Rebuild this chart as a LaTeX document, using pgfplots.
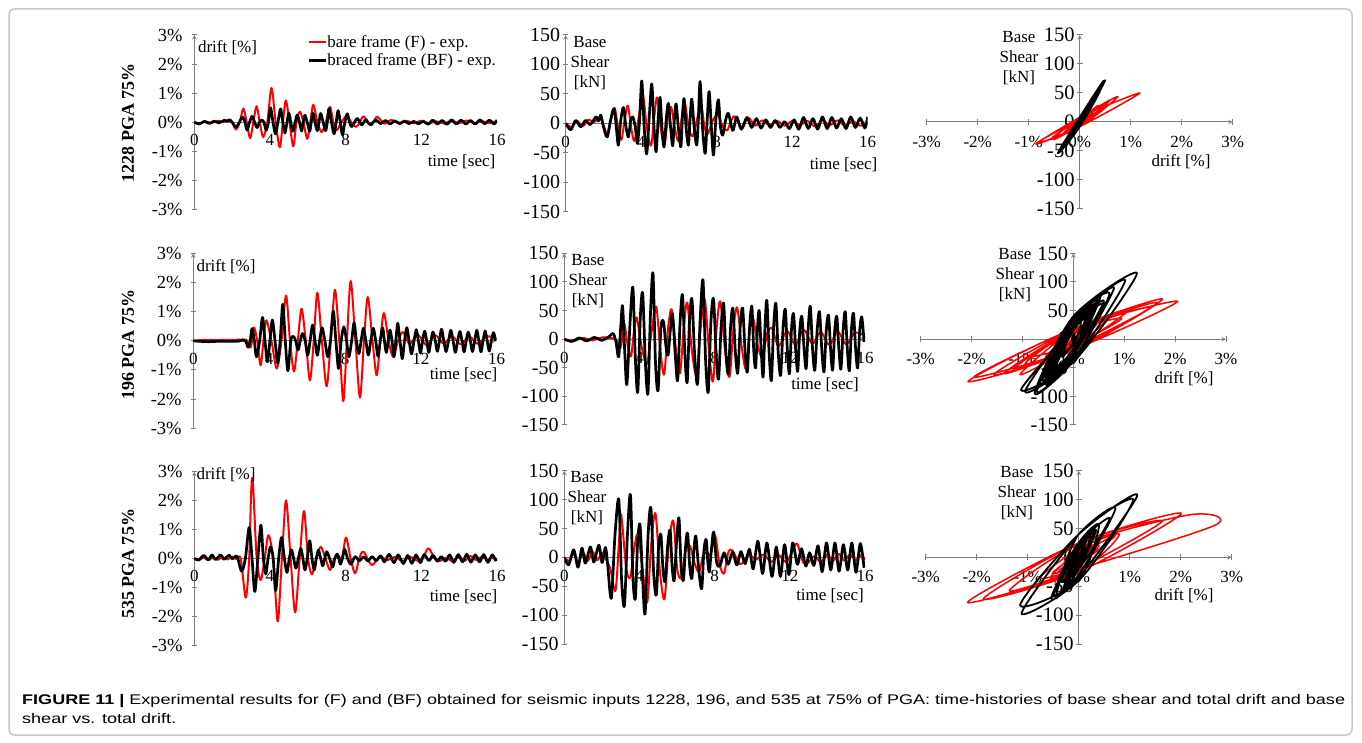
\documentclass[border=0pt]{standalone}
\usepackage{fontspec}
\setmainfont{Liberation Serif}
\newfontfamily\capfont{Liberation Sans}
\usepackage{pgfplots}
\pgfplotsset{compat=1.18}
\usepackage{pgfplotstable}
\usepackage{graphicx}
\definecolor{axgray}{RGB}{125,125,125}
\definecolor{capgray}{RGB}{45,45,45}
\definecolor{framegray}{RGB}{200,200,200}
\newsavebox\capA
\newsavebox\capB
\newlength\capw
\newcommand\lf{\fontsize{17}{20}\selectfont}

% ---------- 1228 PGA 75%, bare frame (F): t, drift [%], base shear [kN]
\pgfplotstableread{
t d v
0.00 0.00 0
0.30 -0.04 -6
0.60 0.03 4
0.90 -0.03 -5
1.20 0.05 6
1.50 0.03 2
1.80 0.06 10
2.00 0.00 -3
2.20 -0.25 -18
2.40 0.00 6
2.59 0.47 26
2.77 0.00 -6
2.95 -0.55 -28
3.12 0.00 6
3.29 0.55 30
3.46 0.00 -6
3.64 -0.51 -30
3.86 0.00 8
4.08 1.18 50
4.30 0.00 -8
4.52 -0.86 -38
4.68 0.00 8
4.84 0.75 44
5.03 0.00 -8
5.23 -0.83 -36
5.40 0.00 6
5.58 0.36 28
5.77 0.00 -6
5.97 -0.57 -30
6.13 0.00 6
6.29 0.60 38
6.51 0.00 -6
6.73 -0.34 -22
6.95 0.00 6
7.17 0.53 32
7.35 0.00 -5
7.52 -0.28 -18
7.78 0.00 4
8.05 0.22 15
8.30 0.00 -4
8.55 -0.16 -12
8.75 0.00 3
8.95 0.20 12
9.35 -0.10 -8
9.65 0.19 10
10.05 -0.05 -4
10.40 0.08 5
10.80 -0.03 -3
11.20 0.05 4
11.60 -0.03 -4
12.00 0.05 4
12.40 -0.04 -3
12.80 0.03 4
13.20 -0.04 -5
13.60 0.05 5
14.00 -0.03 -3
14.40 0.06 5
14.80 -0.03 -4
15.20 0.04 4
15.60 -0.03 -4
16.00 0.02 2
}\tAr

% ---------- 1228 PGA 75%, braced frame (BF)
\pgfplotstableread{
t d v
0.00 0.00 0
0.27 -0.06 -11
0.53 0.03 5
0.80 -0.04 -6
1.05 0.04 5
1.30 -0.02 -2
1.60 0.07 11
1.73 0.03 4
1.86 0.09 14
2.00 0.00 -6
2.20 -0.17 -23
2.38 0.00 6
2.56 0.18 25
2.68 0.00 -6
2.79 -0.27 -37
2.92 0.00 6
3.06 0.20 27
3.19 0.00 -5
3.32 -0.18 -23
3.44 0.00 4
3.55 0.08 11
3.68 0.00 -5
3.80 -0.27 -34
3.92 0.00 8
4.03 0.50 72
4.16 0.00 -8
4.29 -0.40 -52
4.42 0.00 8
4.56 0.46 67
4.68 0.00 -8
4.79 -0.37 -48
4.90 0.00 8
5.00 0.31 44
5.10 0.00 -8
5.21 -0.31 -40
5.33 0.00 8
5.44 0.25 34
5.56 0.00 -8
5.67 -0.30 -38
5.76 0.00 8
5.85 0.24 33
5.97 0.00 -8
6.10 -0.31 -40
6.18 0.00 8
6.27 0.31 42
6.38 0.00 -8
6.50 -0.29 -37
6.59 0.00 8
6.68 0.30 41
6.81 0.00 -8
6.94 -0.29 -37
7.03 0.00 8
7.12 0.47 71
7.25 0.00 -8
7.39 -0.40 -51
7.50 0.00 8
7.60 0.40 54
7.72 0.00 -8
7.83 -0.43 -54
7.96 0.00 8
8.09 0.29 40
8.20 0.00 -6
8.32 -0.15 -20
8.47 0.00 5
8.62 0.13 17
8.85 -0.09 -12
9.06 0.08 11
9.30 -0.08 -10
9.60 0.07 10
9.85 -0.05 -7
10.10 0.06 8
10.35 -0.06 -8
10.60 0.05 6
10.85 -0.05 -7
11.10 0.04 5
11.35 -0.05 -7
11.60 0.03 3
11.85 -0.06 -9
12.10 0.04 6
12.35 -0.07 -10
12.60 0.07 10
12.85 -0.06 -9
13.10 0.06 8
13.35 -0.07 -10
13.60 0.08 11
13.85 -0.06 -9
14.10 0.07 10
14.35 -0.06 -8
14.60 0.06 8
14.85 -0.06 -9
15.10 0.08 11
15.35 -0.05 -7
15.60 0.07 9
15.85 -0.06 -8
16.00 0.08 11
}\tAb

% ---------- 196 PGA 75%, bare frame (F)
\pgfplotstableread{
t d v
0.00 0.00 0
0.50 0.03 -3
1.00 0.02 2
1.50 0.03 -2
2.00 0.03 3
2.50 0.04 2
2.80 0.03 -3
3.00 -0.23 -14
3.10 0.00 8
3.20 0.46 27
3.37 0.00 -10
3.55 -0.84 -30
3.70 0.00 12
3.85 0.70 38
4.12 0.00 -14
4.40 -0.95 -43
4.65 0.00 15
4.89 1.55 57
5.10 0.00 -16
5.31 -1.05 -62
5.51 0.00 16
5.71 1.10 52
5.93 0.00 -15
6.15 -1.36 -60
6.35 0.00 16
6.54 1.65 64
6.78 0.00 -18
7.03 -1.56 -62
7.25 0.00 18
7.47 1.75 70
7.70 0.00 -20
7.91 -2.07 -74
8.10 0.00 18
8.30 2.05 66
8.55 0.00 -18
8.79 -1.95 -66
9.00 0.00 18
9.20 1.50 55
9.45 0.00 -16
9.67 -1.18 -52
9.86 0.00 14
10.05 0.95 36
10.30 0.00 -12
10.54 -0.55 -31
10.80 0.00 10
11.05 0.30 19
11.40 -0.10 -12
11.85 0.20 14
12.30 -0.15 -10
12.75 0.20 16
13.20 -0.10 -8
13.65 0.15 12
14.10 -0.12 -10
14.55 0.15 13
15.00 -0.10 -9
15.45 0.15 11
15.90 0.10 8
}\tBr

% ---------- 196 PGA 75%, braced frame (BF)
\pgfplotstableread{
t d v
0.00 0.00 0
0.40 -0.02 -4
0.80 -0.03 2
1.20 -0.02 -3
1.60 -0.02 3
2.00 -0.02 -2
2.40 -0.01 5
2.60 0.02 10
2.75 0.00 -5
2.89 -0.22 -31
3.00 0.00 20
3.10 0.42 58
3.22 0.00 -25
3.33 -0.55 -79
3.50 0.00 30
3.65 0.80 90
3.78 0.00 -35
3.91 -0.72 -92
4.04 0.00 35
4.17 0.71 80
4.31 0.00 -38
4.45 -0.76 -95
4.58 0.00 40
4.72 1.25 115
4.85 0.00 -40
4.99 -1.03 -89
5.14 0.00 20
5.28 0.15 30
5.40 0.00 -10
5.52 -0.32 -28
5.64 0.00 15
5.76 0.25 44
5.90 0.00 -25
6.03 -0.50 -72
6.16 0.00 30
6.29 0.54 77
6.42 0.00 -30
6.54 -0.50 -75
6.66 0.00 30
6.79 0.45 70
6.94 0.00 -30
7.09 -0.55 -78
7.23 0.00 35
7.38 1.02 103
7.52 0.00 -38
7.66 -0.95 -92
7.80 0.00 30
7.94 0.48 70
8.08 0.00 -28
8.21 -0.55 -69
8.35 0.00 25
8.48 0.62 62
8.60 0.00 -25
8.73 -0.44 -60
8.85 0.00 22
8.97 0.43 54
9.10 0.00 -22
9.23 -0.49 -59
9.36 0.00 22
9.49 0.43 54
9.62 0.00 -22
9.74 -0.53 -57
9.86 0.00 22
9.98 0.45 57
10.08 0.00 -20
10.18 -0.40 -50
10.28 0.00 20
10.37 0.37 50
10.48 0.00 -22
10.58 -0.55 -66
10.68 0.00 24
10.78 0.60 67
10.90 0.00 -25
11.02 -0.61 -72
11.14 0.00 24
11.26 0.45 62
11.38 0.00 -22
11.51 -0.45 -63
11.64 0.00 20
11.76 0.38 52
11.87 0.00 -20
11.98 -0.42 -60
12.09 0.00 18
12.20 0.33 45
12.31 0.00 -18
12.42 -0.40 -56
12.53 0.00 16
12.64 0.30 40
12.76 0.00 -18
12.87 -0.36 -51
12.98 0.00 20
13.09 0.40 57
13.21 0.00 -18
13.33 -0.37 -54
13.46 0.00 18
13.58 0.36 48
13.70 0.00 -18
13.82 -0.40 -57
13.94 0.00 16
14.06 0.32 42
14.17 0.00 -18
14.28 -0.38 -54
14.39 0.00 16
14.50 0.30 40
14.61 0.00 -18
14.72 -0.37 -52
14.84 0.00 18
14.95 0.36 48
15.06 0.00 -18
15.17 -0.38 -55
15.28 0.00 18
15.39 0.34 45
15.50 0.00 -17
15.61 -0.35 -50
15.72 0.00 16
15.83 0.28 39
15.95 0.00 -5
}\tBb

% ---------- 535 PGA 75%, bare frame (F)
\pgfplotstableread{
t d v
0.00 0.00 0
0.25 -0.05 -6
0.50 0.03 6
0.75 -0.07 -9
1.00 0.04 8
1.25 -0.05 -6
1.50 0.05 10
1.75 -0.04 -5
2.00 0.06 8
2.20 -0.02 -3
2.45 0.00 -20
2.72 -1.36 -58
2.90 0.00 22
3.00 2.20 74
3.09 2.68 56
3.30 0.00 -20
3.51 -0.75 -35
3.72 0.00 15
3.92 0.80 40
4.17 0.00 -22
4.41 -2.18 -78
4.63 0.00 25
4.85 2.01 76
5.09 0.00 -25
5.33 -1.87 -72
5.57 0.00 25
5.80 1.64 63
6.01 0.00 -20
6.22 -0.55 -35
6.45 0.00 12
6.68 0.40 20
6.93 0.00 -10
7.17 -0.40 -25
7.40 0.00 5
7.60 0.10 8
7.80 0.00 5
8.02 0.72 38
8.26 0.00 -12
8.50 -0.52 -28
8.72 0.00 8
8.94 0.23 12
9.38 -0.23 -12
9.80 0.06 5
10.20 -0.06 -4
10.60 0.05 5
11.00 -0.10 -8
11.40 0.05 4
11.80 -0.08 -8
12.10 0.05 8
12.38 0.35 24
12.70 0.00 -8
12.95 -0.10 -10
13.30 0.02 2
13.65 -0.10 -8
14.00 0.05 5
14.30 -0.08 -6
14.60 0.08 6
14.90 -0.06 -6
15.20 0.06 5
15.50 -0.05 -5
15.80 0.04 4
16.00 -0.05 -4
}\tCr

% ---------- 535 PGA 75%, braced frame (BF)
\pgfplotstableread{
t d v
0.00 0.00 0
0.23 -0.06 -13
0.50 0.10 13
0.73 -0.05 -17
0.94 0.12 16
1.12 -0.04 -10
1.39 0.12 18
1.57 -0.03 -8
1.84 0.11 21
2.01 -0.02 -9
2.19 0.08 17
2.30 0.00 -10
2.50 -0.45 -71
2.70 0.00 40
2.90 1.07 100
3.05 0.00 -40
3.20 -1.15 -83
3.36 0.00 40
3.52 1.15 108
3.65 0.00 -35
3.78 -0.54 -71
3.90 0.00 25
4.03 0.40 56
4.17 0.00 -40
4.30 -1.12 -97
4.46 0.00 40
4.61 0.72 85
4.76 0.00 -30
4.90 -0.49 -65
5.02 0.00 20
5.14 0.29 39
5.25 0.00 -20
5.37 -0.34 -42
5.50 0.00 20
5.63 0.34 47
5.74 0.00 -18
5.85 -0.40 -40
5.97 0.00 25
6.10 0.61 68
6.22 0.00 -20
6.34 -0.40 -39
6.45 0.00 18
6.56 0.29 42
6.68 0.00 -18
6.79 -0.26 -36
6.90 0.00 15
7.00 0.23 37
7.15 0.00 -20
7.31 -0.30 -54
7.43 0.00 12
7.55 0.15 31
7.64 0.00 -10
7.72 -0.20 -25
7.83 0.00 15
7.95 0.31 44
8.10 0.00 -8
8.28 -0.20 -15
8.50 0.06 8
8.72 -0.08 -12
8.95 0.05 9
9.18 -0.09 -13
9.40 0.06 10
9.62 -0.08 -11
9.85 0.09 14
10.05 -0.12 -20
10.30 0.14 28
10.55 -0.15 -28
10.78 0.12 25
11.05 -0.18 -33
11.28 0.10 18
11.50 -0.17 -33
11.72 0.12 22
11.95 -0.15 -30
12.15 0.13 25
12.40 -0.08 -12
12.62 0.10 15
12.85 -0.10 -15
13.05 0.06 8
13.28 -0.10 -14
13.50 0.12 20
13.72 -0.14 -25
13.95 0.13 25
14.18 -0.12 -22
14.40 0.14 25
14.62 -0.13 -24
14.85 0.12 22
15.08 -0.12 -22
15.30 0.13 25
15.52 -0.14 -26
15.75 0.12 24
15.95 -0.10 -18
}\tCb

\pgfplotsset{
  base/.style={
    scale only axis, anchor=south west,
    axis line style={-, draw=axgray, line width=1pt},
    every inner x axis line/.append style={-},
    every inner y axis line/.append style={-},
    every outer x axis line/.append style={-},
    every outer y axis line/.append style={-},
    tick style={draw=axgray, line width=1pt},
    major tick length=5pt, tick align=outside,
    hide obscured x ticks=false, hide obscured y ticks=false,
    tick label style={inner sep=0pt, text=black},
    xticklabel style={anchor=north, font=\fontsize{17}{20}\selectfont},
    yticklabel style={anchor=east},
    minor tick num=0,
  },
  colA/.style={base, xmin=0, xmax=16, ymin=-3, ymax=3,
    axis x line=middle, axis y line=left,
    xtick={0,4,8,12,16}, xticklabels={0,4,8,12,16},
    ytick={-3,-2,-1,0,1,2,3}, yticklabels={-3\%,-2\%,-1\%,0\%,1\%,2\%,3\%},
    x tick style={draw=none},
    xticklabel style={yshift=-9.5pt},
    yticklabel style={xshift=-9pt, font=\fontsize{18.5}{20}\selectfont}},
  colB/.style={base, xmin=0, xmax=16, ymin=-150, ymax=150,
    axis x line=middle, axis y line=left,
    xtick={0,4,8,12,16}, xticklabels={0,4,8,12,16},
    ytick={-150,-100,-50,0,50,100,150}, yticklabels={-150,-100,-50,0,50,100,150},
    x tick style={draw=none},
    xticklabel style={yshift=-10.5pt},
    yticklabel style={xshift=-3pt, font=\fontsize{20}{20}\selectfont}},
  colC/.style={base, xmin=-3, xmax=3, ymin=-150, ymax=150,
    axis lines=middle, major tick length=6pt,
    xtick={-3,-2,-1,0,1,2,3}, xticklabels={-3\%,-2\%,-1\%,0\%,1\%,2\%,3\%},
    ytick={-150,-100,-50,0,50,100,150}, yticklabels={-150,-100,-50,0,50,100,150},
    xticklabel style={yshift=-10.5pt},
    yticklabel style={xshift=-2pt, font=\fontsize{20.5}{20}\selectfont}},
  rts/.style={red, line width=2pt, smooth, line join=round},
  bts/.style={black, line width=2.7pt, smooth, line join=round},
  rhy/.style={red, line width=1.5pt, smooth, line join=round},
  bhy/.style={black, line width=1.8pt, smooth, line join=round},
}

\begin{document}%
\sbox\capA{\capfont\fontsize{14}{19}\selectfont\textbf{FIGURE 11 |} Experimental results for (F) and (BF) obtained for seismic inputs 1228, 196, and 535 at 75\% of PGA: time-histories of base shear and total drift and base}%
\sbox\capB{\capfont\fontsize{14}{19}\selectfont shear vs. total drift.}%
\setlength\capw{\wd\capA}%
\pgfmathsetmacro\capr{1323/\capw}%
\begin{tikzpicture}[x=1pt,y=1pt]
\path[use as bounding box] (0,0) rectangle (1362,742);
\fill[white] (0,0) rectangle (1362,742);
\draw[framegray, line width=1.5pt, rounded corners=6pt] (9,7) rectangle (1352,733);

% ---------------- Row 1 : 1228 ----------------
\begin{axis}[colA, at={(194.3pt,532.5pt)}, width=302.7pt, height=174.5pt,
  legend style={draw=none, fill=none, at={(0.374,0.998)}, anchor=north west,
    inner sep=0pt, row sep=4.5pt, font=\lf, nodes={inner sep=0pt}},
  legend cell align=left,
  legend image code/.code={\draw[#1] (0pt,0pt) -- (17pt,0pt);}]
\addplot[rts] table[x=t,y=d] {\tAr};
\addlegendentry{bare frame (F) - exp.}
\addplot[bts] table[x=t,y=d] {\tAb};
\addlegendentry{braced frame (BF) - exp.}
\end{axis}
\begin{axis}[colB, at={(565.7pt,530.3pt)}, width=302pt, height=176.7pt]
\addplot[rts] table[x=t,y=v] {\tAr};
\addplot[bts] table[x=t,y=v] {\tAb};
\end{axis}
\begin{axis}[colC, at={(926.7pt,533pt)}, width=306pt, height=174pt]
\addplot[rhy] table[x=d,y=v] {\tAr};
\addplot[bhy] table[x=d,y=v] {\tAb};
\end{axis}

% ---------------- Row 2 : 196 ----------------
\begin{axis}[colA, at={(193.3pt,313.7pt)}, width=303.4pt, height=175pt]
\addplot[rts] table[x=t,y=d] {\tBr};
\addplot[bts] table[x=t,y=d] {\tBb};
\end{axis}
\begin{axis}[colB, at={(564.3pt,317pt)}, width=300.7pt, height=171.7pt]
\addplot[rts] table[x=t,y=v] {\tBr};
\addplot[bts] table[x=t,y=v] {\tBb};
\end{axis}
\begin{axis}[colC, at={(920.7pt,317pt)}, width=305.3pt, height=171.7pt]
\addplot[rhy] table[x=d,y=v] {\tBr};
\addplot[bhy] table[x=d,y=v] {\tBb};
\end{axis}

% ---------------- Row 3 : 535 ----------------
\begin{axis}[colA, at={(194.3pt,97pt)}, width=302.7pt, height=173.3pt]
\addplot[rts] table[x=t,y=d] {\tCr};
\addplot[bts] table[x=t,y=d] {\tCb};
\end{axis}
\begin{axis}[colB, at={(564.3pt,98pt)}, width=300.7pt, height=173.3pt]
\addplot[rts] table[x=t,y=v] {\tCr};
\addplot[bts] table[x=t,y=v] {\tCb};
\end{axis}
\begin{axis}[colC, at={(925.7pt,98pt)}, width=306pt, height=173.3pt]
\addplot[rhy] table[x=d,y=v] {\tCr};
\addplot[bhy] table[x=d,y=v] {\tCb};
\end{axis}

% ---------------- texts ----------------
\begin{scope}[every node/.style={font=\lf, inner sep=0pt}]
\node at (227.5,694) {drift [\%]};
\node at (226,475) {drift [\%]};
\node at (226,267) {drift [\%]};
\node at (461.5,580.3) {time [sec]};
\node at (463.5,367) {time [sec]};
\node at (463.5,145.3) {time [sec]};
\node[align=center] at (590,679) {Base\\Shear\\{}[kN]};
\node[align=center] at (588,461.3) {Base\\Shear\\{}[kN]};
\node[align=center] at (587,244) {Base\\Shear\\{}[kN]};
\node at (843.5,577) {time [sec]};
\node at (825,357) {time [sec]};
\node at (830,146.3) {time [sec]};
\node at (1181,580.3) {drift [\%]};
\node at (1184,363.7) {drift [\%]};
\node at (1184,146.3) {drift [\%]};
\node[align=center] at (1019,684) {Base\\Shear\\{}[kN]};
\node[align=center] at (1015,467) {Base\\Shear\\{}[kN]};
\node[align=center] at (1017,249) {Base\\Shear\\{}[kN]};
\end{scope}
\begin{scope}[every node/.style={font=\bfseries\fontsize{18}{20}\selectfont, inner sep=0pt, rotate=90}]
\node at (128,619) {1228 PGA 75\%};
\node at (128,397) {196 PGA 75\%};
\node at (128,178) {535 PGA 75\%};
\end{scope}

% ---------------- caption ----------------
\node[anchor=base west, inner sep=0pt, text=capgray] at (22,38) {\scalebox{\capr}[1]{\usebox\capA}};
\node[anchor=base west, inner sep=0pt, text=capgray] at (22,19) {\scalebox{\capr}[1]{\usebox\capB}};
\end{tikzpicture}%
\end{document}
